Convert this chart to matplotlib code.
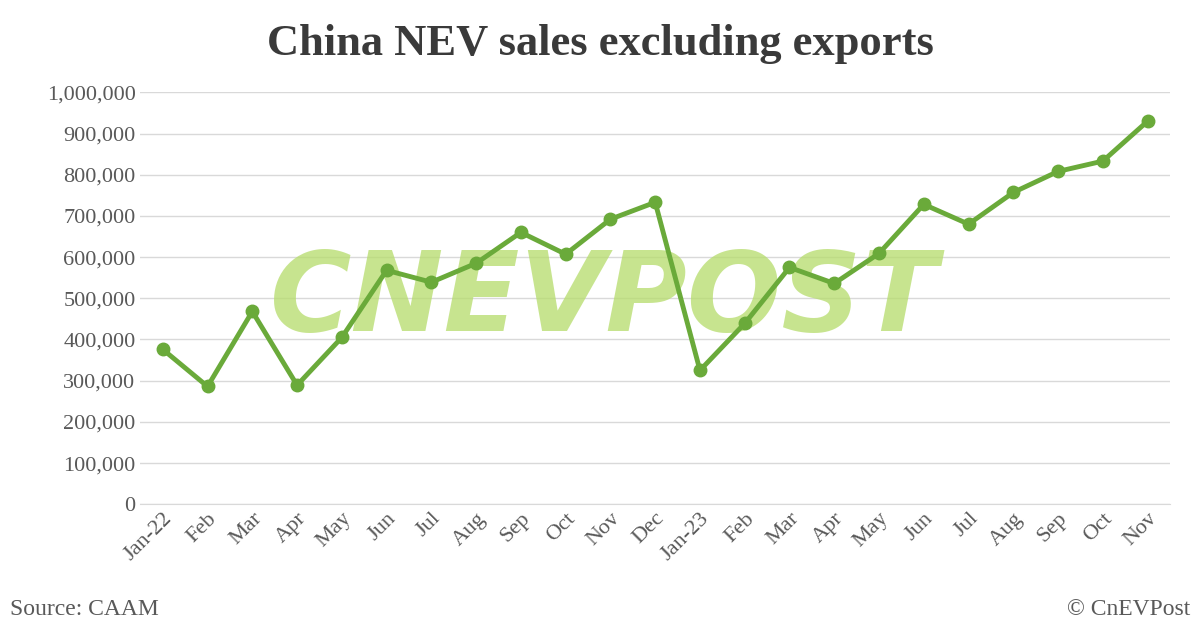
import matplotlib
matplotlib.use("Agg")
import matplotlib.pyplot as plt
from matplotlib.ticker import FuncFormatter

months = ["Jan-22","Feb","Mar","Apr","May","Jun","Jul","Aug","Sep","Oct","Nov","Dec",
          "Jan-23","Feb","Mar","Apr","May","Jun","Jul","Aug","Sep","Oct","Nov"]
sales = [376000,286000,468000,289000,405000,568000,539000,585000,660000,607000,692000,733000,
         325000,439000,575000,536000,609000,728000,680000,757000,808000,833000,930000]

plt.rcParams['font.family'] = ['Liberation Serif', 'DejaVu Serif']
fig = plt.figure(figsize=(12, 6.28), dpi=100)
ax = fig.add_axes([0.117, 0.197, 0.858, 0.656])
x = list(range(len(months)))
ax.text(0.45, 0.495, "CNEVPOST", transform=ax.transAxes, ha='center', va='center',
        fontsize=80, color='#b5dc6a', alpha=0.75, style='italic', fontweight='bold',
        family='DejaVu Sans', zorder=1)
ax.plot(x, sales, color='#6aaa3a', lw=3.5, marker='o', ms=9, zorder=3)
ax.set_xlim(-0.5, 22.5)
ax.set_ylim(0, 1000000)
ax.set_yticks(range(0, 1000001, 100000))
ax.yaxis.set_major_formatter(FuncFormatter(lambda v, p: f"{int(v):,}"))
ax.grid(axis='y', color='#d9d9d9', lw=1)
ax.set_axisbelow(True)
for s in ['top', 'right', 'left']:
    ax.spines[s].set_visible(False)
ax.spines['bottom'].set_color('#d9d9d9')
ax.tick_params(length=0, labelsize=16, colors='#595959')
ax.set_xticks(x)
ax.set_xticklabels(months, rotation=45, ha='right', rotation_mode='anchor')
fig.text(0.5, 0.93, "China NEV sales excluding exports", ha='center', va='center',
         fontsize=32, fontweight='bold', color='#3a3a3a')
fig.text(0.008, 0.03, "Source: CAAM", fontsize=17, color='#595959', va='center')
fig.text(0.992, 0.03, "© CnEVPost", fontsize=17, color='#595959', va='center', ha='right')
fig.savefig("out.png", dpi=100)
